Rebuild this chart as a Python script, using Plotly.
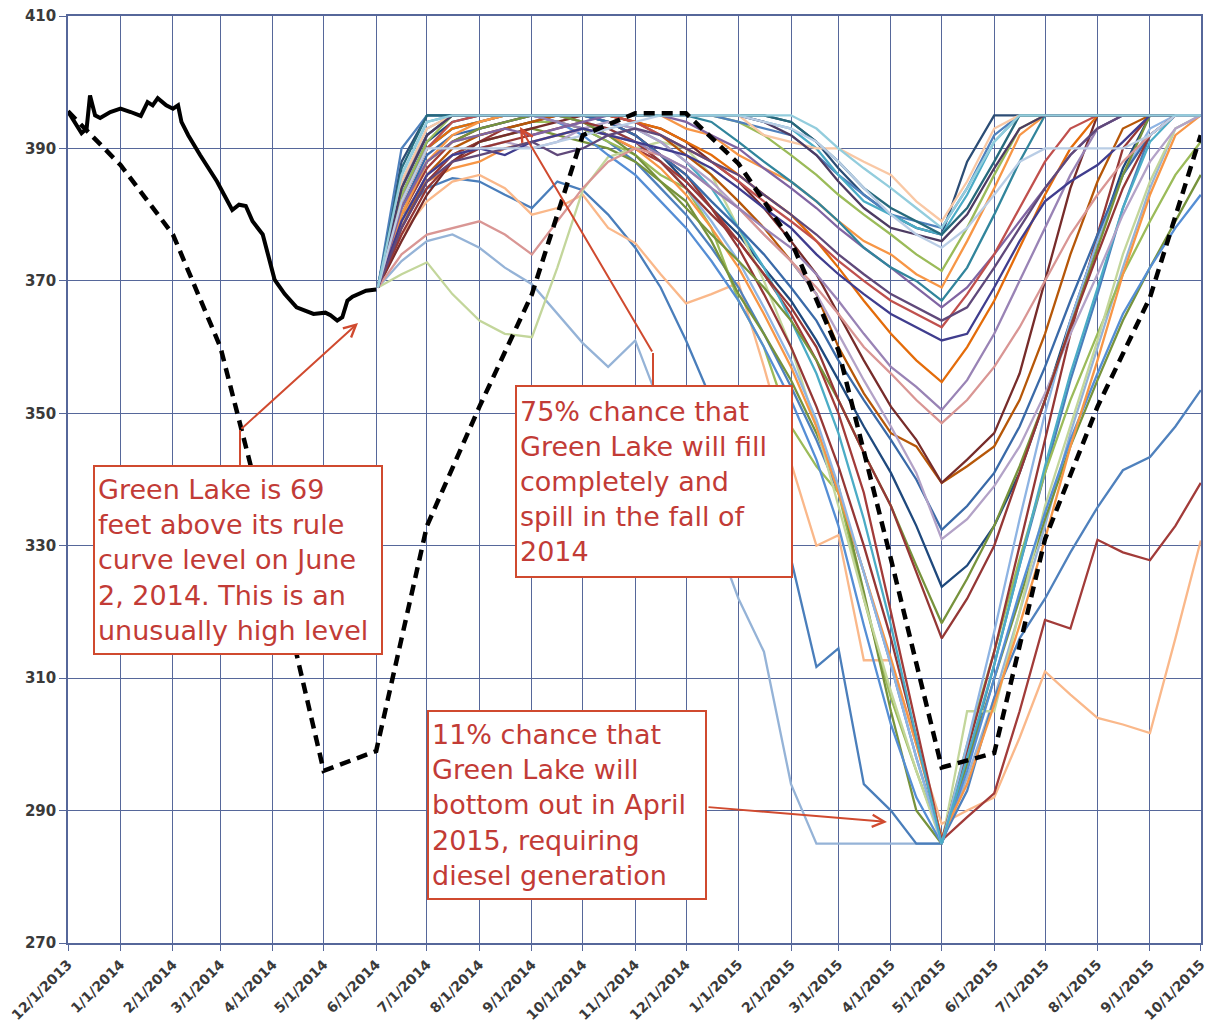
import plotly.graph_objects as go

# ---------------- data ----------------
X_TICK_DATES = ["2013-12-01", "2014-01-01", "2014-02-01", "2014-03-01", "2014-04-01", "2014-05-01",
                "2014-06-01", "2014-07-01", "2014-08-01", "2014-09-01", "2014-10-01", "2014-11-01",
                "2014-12-01", "2015-01-01", "2015-02-01", "2015-03-01", "2015-04-01", "2015-05-01",
                "2015-06-01", "2015-07-01", "2015-08-01", "2015-09-01", "2015-10-01"]
X_TICK_LABELS = ["12/1/2013", "1/1/2014", "2/1/2014", "3/1/2014", "4/1/2014", "5/1/2014",
                 "6/1/2014", "7/1/2014", "8/1/2014", "9/1/2014", "10/1/2014", "11/1/2014",
                 "12/1/2014", "1/1/2015", "2/1/2015", "3/1/2015", "4/1/2015", "5/1/2015",
                 "6/1/2015", "7/1/2015", "8/1/2015", "9/1/2015", "10/1/2015"]
Y_TICKS = [270, 290, 310, 330, 350, 370, 390, 410]

# Observed lake level (solid black)
OBS_DATES = ["2013-12-01", "2013-12-05", "2013-12-09", "2013-12-12", "2013-12-14", "2013-12-17",
             "2013-12-20", "2013-12-26", "2014-01-01", "2014-01-07", "2014-01-13", "2014-01-17",
             "2014-01-20", "2014-01-23", "2014-01-28", "2014-02-01", "2014-02-04", "2014-02-06",
             "2014-02-10", "2014-02-17", "2014-02-22", "2014-02-27", "2014-03-08", "2014-03-12",
             "2014-03-16", "2014-03-20", "2014-03-26", "2014-04-02", "2014-04-08", "2014-04-15",
             "2014-04-25", "2014-05-02", "2014-05-05", "2014-05-09", "2014-05-12", "2014-05-15",
             "2014-05-18", "2014-05-21", "2014-05-26", "2014-06-01"]
OBS_LEVEL = [395.6, 394.0, 392.3, 393.0, 398.0, 395.0,
             394.6, 395.5, 396.0, 395.5, 394.9, 397.0,
             396.5, 397.6, 396.5, 396.0, 396.5, 394.0,
             392.0, 389.0, 387.0, 385.0, 380.7, 381.5,
             381.3, 379.0, 377.0, 370.2, 368.0, 366.0,
             365.0, 365.2, 364.8, 364.0, 364.5, 367.0,
             367.6, 368.0, 368.5, 368.7]

# Rule curve (dashed black)
RULE_DATES = X_TICK_DATES
RULE_LEVEL = [395.6, 387.5, 377, 360, 329, 296, 299, 333, 351, 368, 392, 395.3,
              395.3, 387.7, 376, 359.5, 328, 296.5, 298.7, 331, 351, 367.5, 392]

# Forecast ensemble (semi-monthly)
ENS_DATES = ["2014-06-02", "2014-06-16", "2014-07-01", "2014-07-16", "2014-08-01", "2014-08-16",
             "2014-09-01", "2014-09-16", "2014-10-01", "2014-10-16", "2014-11-01", "2014-11-16",
             "2014-12-01", "2014-12-16", "2015-01-01", "2015-01-16", "2015-02-01", "2015-02-16",
             "2015-03-01", "2015-03-16", "2015-04-01", "2015-04-16", "2015-05-01", "2015-05-16",
             "2015-06-01", "2015-06-16", "2015-07-01", "2015-07-16", "2015-08-01", "2015-08-16",
             "2015-09-01", "2015-09-16", "2015-10-01"]

ENS_C5 = [369, 383, 391, 394, 395, 395, 395, 395, 395, 394, 392,
          389, 385, 381, 377, 372, 367, 361, 355, 348, 341, 333,
          323.8, 327, 333, 341, 352, 364, 376, 387, 395, 395, 395]
ENS_D1 = [369, 373, 376, 377, 375, 372, 369.5, 365, 360.6, 357, 361,
          351, 340, 333, 322, 314, 294, 285, 285, 285, 285, 285,
          285, 295, 307, 320, 333, 347, 360, 372, 384, 393, 395]
ENS_D2 = [369, 380, 384, 385.5, 385, 383, 381, 385, 383.7, 380, 375,
          369, 361, 352, 345, 338, 328, 311.7, 314.5, 294, 290, 285,
          285, 297, 312, 327, 341, 355, 368, 381, 392, 395, 395]
ENS_D3 = [369, 377, 382, 385, 386, 384, 380, 381, 383, 378, 375.7,
          371, 366.6, 368, 369.7, 357, 342.5, 330, 331.6, 312.7, 312.7, 300,
          288, 290, 292, 301, 311, 307.5, 304, 303, 301.7, 316, 330.8]
ENS_D4 = [369, 380, 387, 391, 393, 394, 395, 395, 394, 392, 390,
          388, 385, 381, 376, 371, 365, 358, 350, 338, 320, 303,
          285.5, 289, 292.6, 305, 318.8, 317.5, 330.9, 329, 327.8, 333, 339.5]
ENS_D5 = [369, 383, 390, 393, 394, 395, 395, 394, 393, 391, 388,
          384, 380, 375, 369, 362, 354, 346, 338, 326, 312, 298,
          285.5, 293, 307, 316, 322, 329, 335.8, 341.4, 343.4, 348, 353.5]
ENS_D6 = [369, 381, 388, 391, 392, 393, 394, 394, 393, 391, 389,
          386, 384, 378, 367, 360, 348, 342, 338, 322, 307, 296,
          285.5, 300, 314, 328, 341, 352, 362, 371, 379, 386, 391]
ENS_D7 = [369, 379, 386, 389, 391, 392, 393, 392, 391, 390, 388,
          385, 382, 376, 368, 362, 355, 347, 339, 323, 305, 290,
          285, 297, 310, 322, 334, 345, 355, 364, 372, 379, 386]
ENS_D8 = [369, 371, 372.8, 368, 364, 362, 361.5, 372, 383.7, 388.7, 390,
          391, 390, 386, 378, 370, 360, 348, 336, 322, 308, 296,
          285, 305, 305, 320, 336, 348, 361, 374, 385, 393, 395]
ENS_D9 = [369, 384, 392, 395, 395, 395, 395, 394, 392, 389, 386,
          382, 378, 373, 367, 360, 352, 343, 333, 318, 303, 292,
          285, 296, 310, 323, 335, 346, 356, 365, 372, 378, 383]
ENS_D10 = [369, 380, 385, 387, 388, 390, 391, 392, 393, 392, 390,
           387, 383, 378, 372, 365, 357, 348, 338, 326, 313, 300,
           286, 294, 306, 318, 331, 345, 358, 371, 383, 392, 395]
ENS_D11 = [369, 378, 385, 389, 391, 393, 394, 395, 395, 394, 392,
           389, 386, 381, 375, 368, 360, 351, 342, 330, 316, 301,
           285.5, 299, 314, 330, 346, 362, 377, 390, 395, 395, 395]
ENS_D12 = [369, 385, 393, 395, 395, 395, 395, 395, 394, 393, 391,
           388, 384, 379, 373, 366, 358, 349, 339, 326, 312, 298,
           285, 300, 317, 334, 350, 364, 376, 386, 393, 395, 395]
ENS_D13 = [369, 382, 390, 393, 394, 395, 395, 395, 395, 394, 393,
           391, 388, 384, 378, 372, 364, 356, 347, 334, 318, 301,
           285, 298, 312, 327, 342, 356, 369, 381, 391, 395, 395]
ENS_C1 = [369, 378, 386, 390, 392, 393, 394, 395, 395, 395, 394,
          392, 389, 386, 382, 378, 373, 368, 360, 353, 347, 345,
          339.5, 342, 345, 352, 362, 374, 385, 393, 395, 395, 395]
ENS_C2 = [369, 376, 383, 388, 391, 392, 393, 394, 395, 395, 394,
          393, 391, 388, 385, 381, 376, 371, 365, 358, 351, 346,
          339.5, 343, 347, 356, 370, 384, 395, 395, 395, 395, 395]
ENS_C3 = [369, 381, 389, 392, 393, 394, 395, 395, 395, 394, 392,
          389, 386, 382, 378, 374, 369, 364, 358, 352, 346, 340,
          332.4, 336, 341, 348, 357, 367, 377, 386, 392, 395, 395]
ENS_C4 = [369, 379, 386, 389, 390, 391, 390, 391, 393, 394, 393,
          391, 388, 385, 381, 377, 373, 368, 362, 355, 348, 341,
          331, 334, 339, 345, 353, 362, 371, 380, 388, 393, 395]
ENS_C6 = [369, 380, 388, 391, 393, 394, 395, 395, 394, 392, 389,
          385, 381, 377, 373, 369, 364, 358, 352, 344, 336, 327,
          318.3, 325, 333, 342, 352, 363, 375, 386, 395, 395, 395]
ENS_C7 = [369, 377, 384, 388, 390, 391, 392, 393, 394, 393, 391,
          388, 384, 380, 376, 371, 366, 360, 352, 344, 336, 326,
          316, 322, 330, 341, 352, 363, 374, 384, 392, 395, 395]
ENS_C8 = [369, 374, 377, 378, 379, 377, 374, 379, 384, 388, 390,
          389, 387, 384, 381, 377, 373, 369, 365, 360, 356, 352,
          348.5, 352, 357, 363, 370, 377, 383, 388, 392, 395, 395]
ENS_C9 = [369, 382, 390, 393, 394, 395, 395, 395, 395, 395, 394,
          393, 391, 389, 386, 383, 380, 376, 372, 367, 362, 358,
          354.7, 360, 367, 375, 383, 390, 395, 395, 395, 395, 395]
ENS_C10 = [369, 385, 392, 395, 395, 395, 395, 394, 393, 392, 391,
           389, 387, 384, 381, 378, 375, 371, 367, 362, 357, 354,
           350.5, 355, 362, 370, 378, 386, 393, 395, 395, 395, 395]
ENS_B1 = [369, 380, 388, 392, 394, 395, 395, 395, 395, 395, 395,
          395, 393, 392, 389, 387, 385, 382, 379, 376, 374, 371,
          369, 376, 384, 392, 395, 395, 395, 395, 395, 395, 395]
ENS_B2 = [369, 383, 391, 395, 395, 395, 395, 395, 395, 395, 395,
          395, 395, 395, 394, 392, 389, 386, 383, 380, 377, 374,
          371.5, 378, 386, 393, 395, 395, 395, 395, 395, 395, 395]
ENS_B3 = [369, 381, 388, 391, 392, 393, 392, 393, 394, 395, 395,
          395, 394, 392, 390, 387, 384, 381, 378, 375, 372, 369,
          366, 369, 374, 379, 384, 389, 393, 395, 395, 395, 395]
ENS_B4 = [369, 379, 386, 389, 390, 389, 391, 392, 393, 392, 391,
          390, 389, 387, 384, 381, 378, 374, 371, 368, 365, 363,
          361, 362, 369, 376, 382, 385, 387.5, 391, 395, 395, 395]
ENS_B5 = [369, 384, 392, 395, 395, 395, 395, 395, 395, 395, 395,
          395, 395, 394, 391, 388, 385, 382, 379, 375, 372, 370,
          367, 372, 380, 388, 395, 395, 395, 395, 395, 395, 395]
ENS_B6 = [369, 382, 390, 394, 395, 395, 395, 395, 395, 395, 394,
          392, 390, 388, 385, 382, 379, 376, 373, 370, 367, 365,
          363, 368, 374, 381, 388, 393, 395, 395, 395, 395, 395]
ENS_B7 = [369, 378, 385, 388, 389, 390, 391, 389, 390, 392, 393,
          392, 390, 388, 386, 383, 380, 377, 374, 371, 368, 366,
          364, 366, 372, 378, 384, 389, 393, 395, 395, 395, 395]
ENS_A1 = [369, 388, 395, 395, 395, 395, 395, 395, 395, 395, 395,
          395, 395, 395, 395, 395, 394, 391, 387, 383, 380, 378,
          377, 388, 395, 395, 395, 395, 395, 395, 395, 395, 395]
ENS_A2 = [369, 390, 395, 395, 395, 395, 395, 395, 395, 395, 395,
          395, 395, 395, 394, 393, 392, 389, 386, 383, 380, 379,
          378, 384, 392, 395, 395, 395, 395, 395, 395, 395, 395]
ENS_A3 = [369, 386, 394, 395, 395, 395, 395, 395, 395, 395, 395,
          395, 395, 395, 395, 394, 393, 390, 386, 382, 380, 378,
          377, 383, 391, 395, 395, 395, 395, 395, 395, 395, 395]
ENS_A4 = [369, 385, 393, 395, 395, 395, 395, 395, 395, 395, 395,
          395, 395, 395, 395, 392, 391, 390, 390, 388, 386, 382,
          379, 385, 393, 395, 395, 395, 395, 395, 395, 395, 395]
ENS_A5 = [369, 387, 395, 395, 395, 395, 395, 395, 395, 395, 395,
          395, 395, 395, 395, 395, 394, 391, 388, 384, 381, 379,
          377, 381, 388, 395, 395, 395, 395, 395, 395, 395, 395]
ENS_A6 = [369, 384, 392, 395, 395, 395, 395, 395, 395, 395, 395,
          395, 395, 395, 395, 394, 392, 389, 385, 381, 378, 377,
          376, 380, 387, 393, 395, 395, 395, 395, 395, 395, 395]
ENS_A7 = [369, 382, 390, 390, 390, 390, 390, 391, 392, 393, 394,
          395, 395, 395, 395, 394, 393, 391, 388, 384, 380, 377,
          375, 378, 383, 388, 390, 390, 390, 390, 392, 395, 395]
ENS_A8 = [369, 386, 394, 395, 395, 395, 395, 395, 395, 395, 395,
          395, 395, 395, 395, 395, 395, 393, 390, 387, 384, 381,
          378, 384, 391, 395, 395, 395, 395, 395, 395, 395, 395]

# drawing order: lower members first, upper members last
ENSEMBLE = [ENS_C5, ENS_D1, ENS_D2, ENS_D3, ENS_D4, ENS_D5, ENS_D6, ENS_D7, ENS_D8, ENS_D9,
            ENS_D10, ENS_D11, ENS_D12, ENS_D13, ENS_C1, ENS_C2, ENS_C3, ENS_C4, ENS_C6, ENS_C7,
            ENS_C8, ENS_C9, ENS_C10, ENS_B1, ENS_B2, ENS_B3, ENS_B4, ENS_B5, ENS_B6, ENS_B7,
            ENS_A1, ENS_A2, ENS_A3, ENS_A4, ENS_A5, ENS_A6, ENS_A7, ENS_A8]
ENSEMBLE_COLORS = ["#1F497D", "#95B3D7", "#4A7EBB", "#FAB88A", "#A23B39", "#4F81BD", "#9BBB59",
                   "#77933C", "#C3D69B", "#558ED5", "#F79646", "#953735", "#8EB4E3", "#4BACC6",
                   "#B65708", "#772C2A", "#3A6AA8", "#B3A2C7", "#77933C", "#953735", "#D99694",
                   "#E46C0A", "#9983B5", "#F79646", "#9BBB59", "#8064A2", "#403D8E", "#31859C",
                   "#C0504D", "#60497A", "#2C4D75", "#4F81BD", "#4BACC6", "#F9C8A5", "#276A7C",
                   "#4D3B62", "#B9CDE5", "#93CDDD"]

# ---------------- figure ----------------
fig = go.Figure()
for vals, col in zip(ENSEMBLE, ENSEMBLE_COLORS):
    fig.add_trace(go.Scatter(x=ENS_DATES[:len(vals)], y=vals, mode="lines",
                             line=dict(color=col, width=2.3), hoverinfo="skip"))

fig.add_trace(go.Scatter(x=RULE_DATES, y=RULE_LEVEL, mode="lines",
                         line=dict(color="black", width=4.5, dash="11px,7px")))
fig.add_trace(go.Scatter(x=OBS_DATES, y=OBS_LEVEL, mode="lines",
                         line=dict(color="black", width=4)))

GRID = "#56679A"
TXT = "#C23B36"
BRD = "#D04A2F"

ML, MR, MT, MB = 68, 9, 16, 93
PW = 1210 - ML - MR
PH = 1036 - MT - MB

fig.update_layout(
    width=1210, height=1036,
    margin=dict(l=ML, r=MR, t=MT, b=MB, autoexpand=False),
    paper_bgcolor="white", plot_bgcolor="white",
    showlegend=False,
    font=dict(family="DejaVu Sans", color="#333333"),
    xaxis=dict(type="date", range=[X_TICK_DATES[0], "2015-10-01 03:00"], automargin=False,
               tickmode="array", tickvals=X_TICK_DATES, ticktext=X_TICK_LABELS,
               ticklabeloverflow="allow",
               tickangle=-45, tickfont=dict(family="DejaVu Sans", size=14, color="#3a3a3a", weight="bold"),
               showgrid=True, gridcolor=GRID, gridwidth=1.2,
               showline=True, linecolor=GRID, linewidth=1.5, mirror=True,
               ticks="outside", ticklen=6, tickcolor=GRID, zeroline=False),
    yaxis=dict(range=[270, 410], tickmode="array", tickvals=Y_TICKS, automargin=False,
               ticklabeloverflow="allow",
               tickfont=dict(family="DejaVu Sans", size=15, color="#3a3a3a", weight="bold"),
               showgrid=True, gridcolor=GRID, gridwidth=1.2,
               showline=True, linecolor=GRID, linewidth=1.5, mirror=True,
               ticks="outside", ticklen=7, tickcolor=GRID, zeroline=False),
)

BOX_FONT = dict(family="DejaVu Sans", size=27, color=TXT)


def px_x(px):
    return (px - ML) / float(PW)


def px_y(py):
    return (MT + PH - py) / float(PH)


boxes = [
    (93, 465, 280, 180, "Green Lake is 69<br>feet above its rule<br>curve level on June<br>2, 2014. This is an<br>unusually high level"),
    (515, 385, 268, 183, "75% chance that<br>Green Lake will fill<br>completely and<br>spill in the fall of<br>2014"),
    (427, 710, 270, 180, "11% chance that<br>Green Lake will<br>bottom out in April<br>2015, requiring<br>diesel generation"),
]

# arrow connector segments (drawn under boxes)
fig.add_shape(type="line", xref="paper", yref="paper", x0=px_x(240), x1=px_x(240),
              y0=px_y(430), y1=px_y(466), line=dict(color=BRD, width=2))
fig.add_shape(type="line", xref="paper", yref="paper", x0=px_x(653), x1=px_x(653),
              y0=px_y(353), y1=px_y(386), line=dict(color=BRD, width=2))

arrows = [((358, 323), (240, 430)), ((520, 127), (653, 353)), ((887, 822), (707, 807))]
for (hx, hy), (tx, ty) in arrows:
    fig.add_annotation(xref="paper", yref="paper", x=px_x(hx), y=px_y(hy),
                       ax=tx - hx, ay=ty - hy, text="", showarrow=True,
                       arrowhead=5, arrowsize=1.2, arrowwidth=2, arrowcolor=BRD, standoff=0)

for bx, by, w, h, txt in boxes:
    fig.add_annotation(xref="paper", yref="paper", x=px_x(bx), y=px_y(by),
                       xanchor="left", yanchor="top", showarrow=False,
                       text=txt, align="left", valign="middle", font=BOX_FONT,
                       width=w, height=h, bgcolor="white", bordercolor=BRD,
                       borderwidth=2, borderpad=3)

fig.write_html("out.html", config={"displayModeBar": False},
               post_script="document.body.style.margin='0';")
